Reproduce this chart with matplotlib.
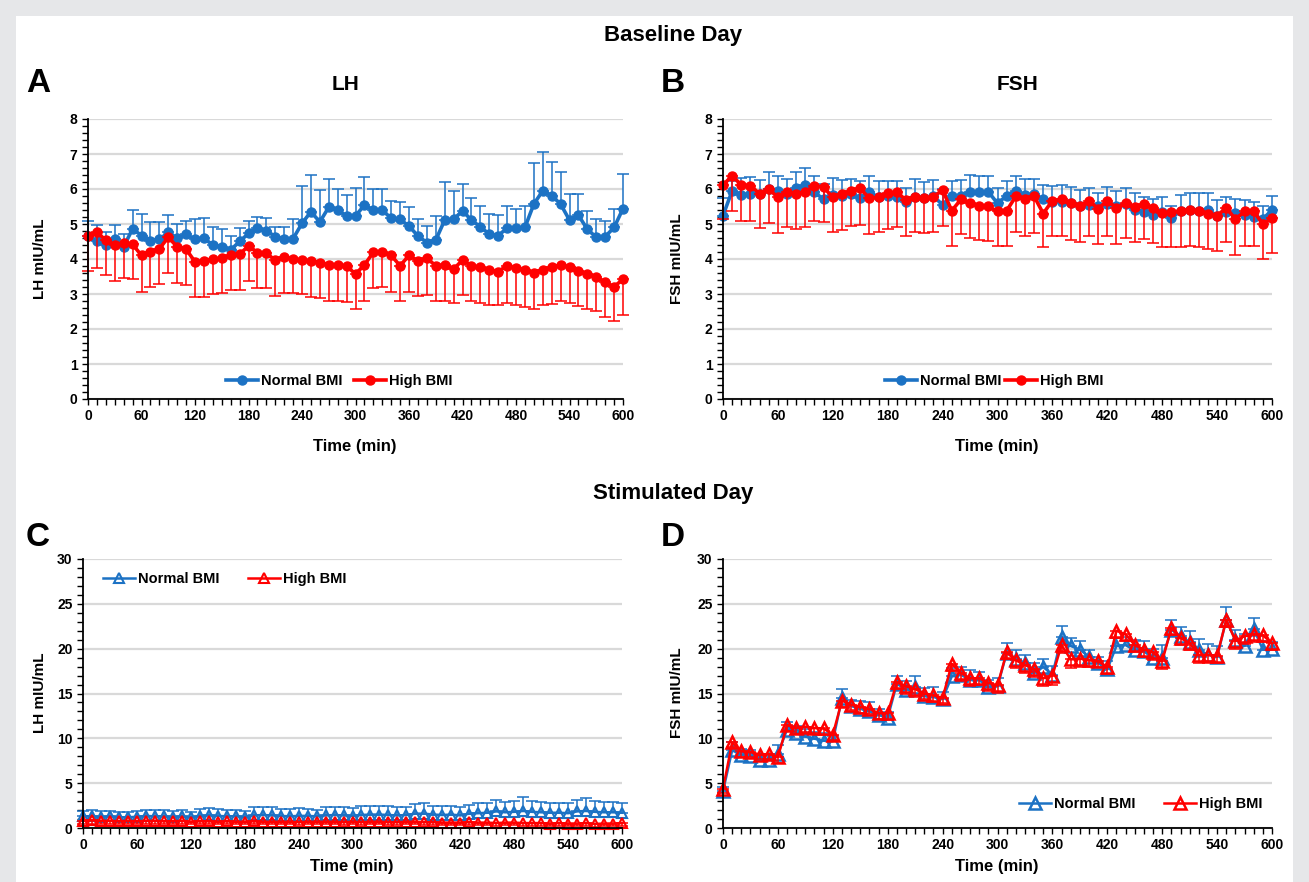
import numpy as np
import matplotlib
matplotlib.use("Agg")
import matplotlib.pyplot as plt
from matplotlib.patches import Rectangle
from matplotlib.ticker import MultipleLocator

plt.rcParams['font.family'] = ['Liberation Sans Narrow', 'Liberation Sans', 'DejaVu Sans']
plt.rcParams['font.weight'] = 'bold'

W, H = 1309, 882
BLUE = '#1c72c4'
RED = '#ff0000'

time_min = np.arange(0, 610, 10)

# --- Baseline day, LH (panel A) ---
lh_base_normal = [4.67, 4.50, 4.40, 4.56, 4.35, 4.86, 4.67, 4.51, 4.56, 4.76, 4.59, 4.70, 4.57, 4.59, 4.40,
                  4.33, 4.26, 4.50, 4.73, 4.88, 4.81, 4.64, 4.56, 4.58, 5.02, 5.35, 5.06, 5.48, 5.40,
                  5.23, 5.23, 5.54, 5.40, 5.40, 5.16, 5.13, 4.94, 4.66, 4.47, 4.54, 5.11, 5.13, 5.38, 5.11,
                  4.92, 4.71, 4.67, 4.88, 4.88, 4.90, 5.57, 5.95, 5.81, 5.57, 5.11, 5.25, 4.85, 4.62, 4.64,
                  4.90, 5.44]
lh_base_normal_top = [5.09, 4.97, 4.76, 4.97, 4.70, 5.40, 5.30, 5.07, 5.07, 5.26, 5.00, 5.09, 5.13, 5.16, 4.90,
                      4.85, 4.66, 4.88, 5.09, 5.21, 5.16, 4.92, 4.92, 5.13, 6.10, 6.40, 5.97, 6.28, 6.00,
                      5.82, 6.04, 6.34, 6.00, 6.00, 5.67, 5.64, 5.48, 5.14, 4.94, 5.23, 6.21, 5.95, 6.14, 5.75,
                      5.52, 5.29, 5.26, 5.52, 5.43, 5.50, 6.75, 7.07, 6.78, 6.48, 5.85, 5.85, 5.38, 5.14, 5.09,
                      5.42, 6.43]
lh_base_high = [4.66, 4.76, 4.54, 4.40, 4.45, 4.42, 4.10, 4.21, 4.29, 4.62, 4.35, 4.28, 3.92, 3.95, 3.99,
                4.02, 4.11, 4.13, 4.38, 4.18, 4.16, 3.97, 4.07, 3.99, 3.97, 3.94, 3.90, 3.83, 3.83,
                3.80, 3.57, 3.83, 4.19, 4.21, 4.10, 3.81, 4.10, 3.95, 4.02, 3.81, 3.83, 3.71, 3.97, 3.81,
                3.76, 3.69, 3.64, 3.81, 3.73, 3.69, 3.61, 3.70, 3.76, 3.83, 3.76, 3.67, 3.57, 3.50, 3.33,
                3.21, 3.42]
lh_base_high_low = [3.66, 3.73, 3.54, 3.37, 3.45, 3.42, 3.07, 3.21, 3.29, 3.59, 3.32, 3.26, 2.92, 2.92, 2.99,
                    3.02, 3.11, 3.11, 3.37, 3.16, 3.16, 2.95, 3.04, 3.02, 2.99, 2.92, 2.88, 2.81, 2.80,
                    2.78, 2.56, 2.80, 3.16, 3.21, 3.07, 2.81, 3.07, 2.94, 2.97, 2.80, 2.80, 2.73, 2.97, 2.80,
                    2.75, 2.69, 2.69, 2.75, 2.69, 2.64, 2.57, 2.69, 2.71, 2.81, 2.73, 2.66, 2.56, 2.50, 2.33,
                    2.23, 2.40]

# --- Baseline day, FSH (panel B) ---
fsh_base_normal = [5.24, 5.95, 5.84, 5.86, 5.86, 6.00, 5.93, 5.86, 6.02, 6.11, 5.90, 5.71, 5.83, 5.79, 5.86,
                   5.73, 5.92, 5.76, 5.79, 5.78, 5.62, 5.78, 5.73, 5.79, 5.55, 5.79, 5.81, 5.90, 5.92,
                   5.92, 5.59, 5.81, 5.95, 5.83, 5.86, 5.70, 5.64, 5.64, 5.59, 5.52, 5.55, 5.52, 5.57, 5.52,
                   5.57, 5.41, 5.35, 5.26, 5.33, 5.16, 5.38, 5.41, 5.38, 5.40, 5.24, 5.35, 5.31, 5.26, 5.19,
                   5.14, 5.40]
fsh_base_normal_top = [5.75, 6.24, 6.31, 6.33, 6.27, 6.48, 6.38, 6.30, 6.50, 6.60, 6.38, 6.14, 6.31, 6.27, 6.29,
                       6.22, 6.38, 6.22, 6.22, 6.24, 6.03, 6.29, 6.19, 6.26, 6.00, 6.24, 6.26, 6.41, 6.36,
                       6.38, 6.03, 6.24, 6.38, 6.30, 6.30, 6.12, 6.08, 6.11, 6.05, 5.97, 6.03, 5.88, 6.05, 5.95,
                       6.03, 5.88, 5.78, 5.71, 5.78, 5.52, 5.83, 5.88, 5.88, 5.88, 5.69, 5.76, 5.71, 5.69, 5.63,
                       5.52, 5.81]
fsh_base_high = [6.11, 6.38, 6.11, 6.10, 5.86, 6.00, 5.76, 5.92, 5.86, 5.92, 6.10, 6.05, 5.76, 5.86, 5.95,
                 6.02, 5.73, 5.76, 5.88, 5.90, 5.69, 5.78, 5.73, 5.78, 5.97, 5.38, 5.70, 5.59, 5.52,
                 5.50, 5.36, 5.38, 5.79, 5.70, 5.79, 5.30, 5.67, 5.70, 5.59, 5.50, 5.67, 5.43, 5.67, 5.46,
                 5.59, 5.48, 5.57, 5.46, 5.31, 5.33, 5.38, 5.41, 5.36, 5.30, 5.24, 5.46, 5.14, 5.36, 5.36,
                 5.00, 5.16]
fsh_base_high_low = [5.14, 5.38, 5.10, 5.10, 4.89, 5.02, 4.73, 4.90, 4.86, 4.92, 5.10, 5.05, 4.76, 4.84, 4.95,
                     4.98, 4.71, 4.76, 4.86, 4.90, 4.67, 4.76, 4.73, 4.76, 4.95, 4.38, 4.70, 4.60, 4.55,
                     4.50, 4.38, 4.38, 4.78, 4.67, 4.74, 4.33, 4.65, 4.65, 4.55, 4.48, 4.65, 4.43, 4.65, 4.43,
                     4.60, 4.48, 4.57, 4.46, 4.33, 4.33, 4.35, 4.36, 4.35, 4.29, 4.24, 4.48, 4.12, 4.38, 4.36,
                     4.00, 4.17]

# --- Stimulated day, LH (panel C) ---
lh_stim_normal = [1.30, 1.30, 1.25, 1.30, 1.20, 1.20, 1.25, 1.35, 1.30, 1.30, 1.25, 1.30, 1.20, 1.35, 1.40,
                  1.35, 1.30, 1.30, 1.25, 1.40, 1.45, 1.40, 1.35, 1.30, 1.35, 1.35, 1.30, 1.40, 1.45, 1.40,
                  1.35, 1.45, 1.50, 1.50, 1.45, 1.40, 1.45, 1.60, 1.60, 1.50, 1.45, 1.50, 1.40, 1.60, 1.65,
                  1.70, 1.85, 1.75, 1.80, 1.90, 1.80, 1.75, 1.70, 1.70, 1.65, 1.85, 1.90, 1.80, 1.75, 1.75,
                  1.70]
lh_stim_normal_err = [0.6, 0.7, 0.6, 0.6, 0.6, 0.6, 0.6, 0.7, 0.7, 0.7, 0.7, 0.7, 0.6, 0.8, 0.8,
                      0.8, 0.7, 0.7, 0.6, 0.9, 0.9, 0.9, 0.8, 0.8, 0.9, 0.8, 0.7, 0.9, 0.9, 0.9,
                      0.9, 1.0, 1.0, 1.0, 1.0, 0.9, 0.9, 1.1, 1.2, 1.0, 1.0, 1.0, 0.9, 1.0, 1.1,
                      1.1, 1.3, 1.2, 1.2, 1.6, 1.2, 1.2, 1.1, 1.1, 1.1, 1.3, 1.4, 1.2, 1.2, 1.2,
                      1.1]
lh_stim_high = [0.80, 0.85, 0.80, 0.80, 0.75, 0.80, 0.75, 0.80, 0.80, 0.75, 0.75, 0.80, 0.70, 0.75, 0.75,
                0.70, 0.75, 0.70, 0.70, 0.75, 0.70, 0.70, 0.70, 0.70, 0.65, 0.70, 0.70, 0.70, 0.70, 0.65,
                0.70, 0.65, 0.70, 0.70, 0.65, 0.65, 0.70, 0.70, 0.65, 0.65, 0.60, 0.60, 0.60, 0.65, 0.60,
                0.60, 0.55, 0.60, 0.60, 0.55, 0.55, 0.55, 0.50, 0.55, 0.50, 0.50, 0.55, 0.45, 0.50, 0.50,
                0.55]
lh_stim_high_err = [0.35, 0.35, 0.3, 0.35, 0.3, 0.35, 0.3, 0.35, 0.35, 0.3, 0.3, 0.35, 0.3, 0.3, 0.3,
                    0.3, 0.3, 0.3, 0.3, 0.3, 0.3, 0.3, 0.3, 0.3, 0.3, 0.3, 0.3, 0.3, 0.3, 0.3,
                    0.3, 0.3, 0.3, 0.3, 0.3, 0.3, 0.3, 0.3, 0.3, 0.3, 0.3, 0.3, 0.3, 0.3, 0.3,
                    0.3, 0.3, 0.3, 0.3, 0.3, 0.3, 0.3, 0.3, 0.3, 0.3, 0.3, 0.3, 0.3, 0.3, 0.3,
                    0.3]

# --- Stimulated day, FSH (panel D) ---
fsh_stim_normal = [4.10, 8.66, 8.18, 8.07, 7.62, 7.55, 8.30, 10.97, 10.60, 10.20, 9.96, 9.74, 9.67, 14.50, 13.60,
                   13.30, 13.00, 12.60, 12.30, 16.10, 15.40, 15.70, 14.70, 14.60, 14.40, 16.90, 17.10, 16.50,
                   16.50, 15.70, 15.80, 19.50, 18.90, 18.40, 17.30, 17.95, 17.10, 21.30, 20.30, 19.90, 19.10,
                   18.40, 17.70, 20.30, 20.40, 19.80, 19.70, 18.96, 18.96, 22.10, 21.40, 20.70, 19.90, 19.30,
                   19.10, 23.20, 21.00, 20.30, 22.20, 19.90, 19.96]
fsh_stim_normal_err = [0.5, 0.9, 0.6, 0.6, 0.6, 0.6, 1.0, 0.9, 0.8, 0.8, 0.8, 0.8, 0.6, 1.0, 0.7,
                       0.9, 1.1, 0.7, 0.6, 0.9, 1.0, 1.2, 0.9, 1.1, 0.8, 0.9, 0.9, 1.1, 0.9, 0.8,
                       0.9, 1.1, 1.0, 0.9, 1.1, 0.85, 1.0, 1.2, 0.9, 0.9, 0.7, 0.7, 0.9, 0.9, 0.9,
                       1.2, 1.2, 1.0, 1.4, 1.1, 1.0, 1.3, 1.2, 1.2, 1.2, 1.4, 1.1, 1.3, 1.2, 1.0,
                       0.8]
fsh_stim_high = [4.35, 9.55, 8.55, 8.48, 8.18, 8.25, 7.92, 11.45, 11.20, 11.30, 11.15, 11.10, 10.40, 14.20, 13.75,
                 13.50, 13.30, 12.80, 12.80, 16.25, 15.80, 15.50, 15.00, 14.80, 14.50, 18.30, 17.30, 16.70,
                 16.70, 16.20, 15.90, 19.60, 18.70, 18.20, 17.70, 16.70, 17.00, 20.40, 18.80, 18.90, 18.70,
                 18.60, 17.95, 22.00, 21.60, 20.40, 19.90, 19.60, 18.60, 22.30, 21.20, 20.60, 19.30, 19.30,
                 19.20, 23.20, 20.90, 21.40, 21.60, 21.50, 20.60]
fsh_stim_high_err = [0.4, 0.5, 0.6, 0.6, 0.5, 0.5, 0.7, 0.6, 0.7, 0.6, 0.6, 0.7, 0.6, 0.7, 0.6,
                     0.7, 0.6, 0.6, 0.7, 0.8, 0.8, 0.9, 0.6, 0.8, 0.6, 0.8, 0.9, 0.9, 0.8, 0.9,
                     0.8, 0.8, 0.9, 0.9, 0.9, 0.9, 1.0, 0.9, 1.0, 0.9, 0.8, 0.7, 0.8, 0.8, 0.7,
                     0.8, 0.8, 0.9, 0.9, 0.8, 0.8, 0.8, 0.9, 0.9, 0.8, 0.8, 0.9, 0.9, 0.9, 0.8,
                     0.7]


def box(l, r, t, b):
    return [l / W, (H - b) / H, (r - l) / W, (b - t) / H]


def style_axis(ax, ymax, ystep, yminor):
    ax.set_xlim(0, 600)
    ax.set_ylim(0, ymax)
    ax.xaxis.set_major_locator(MultipleLocator(60))
    ax.xaxis.set_minor_locator(MultipleLocator(10))
    ax.yaxis.set_major_locator(MultipleLocator(ystep))
    ax.yaxis.set_minor_locator(MultipleLocator(yminor))
    ax.tick_params(which='both', direction='out', color='black', width=1.0, labelsize=10)
    ax.tick_params(which='major', length=4)
    ax.tick_params(which='minor', length=4)
    for lab in ax.get_xticklabels() + ax.get_yticklabels():
        lab.set_fontweight('bold')
    for s in ['top', 'right']:
        ax.spines[s].set_visible(False)
    for s in ['left', 'bottom']:
        ax.spines[s].set_linewidth(1.3)
        ax.spines[s].set_color('black')
    ax.yaxis.grid(True, which='major', color='#d9d9d9', linewidth=1.6)
    ax.set_axisbelow(True)


def circles(ax, mean, lo, hi, color, label):
    mean = np.array(mean)
    ax.errorbar(time_min, mean, yerr=[mean - np.array(lo), np.array(hi) - mean], fmt='none',
                ecolor=color, elinewidth=1.1, capsize=4, capthick=1.1, clip_on=False)
    ax.plot(time_min, mean, '-o', color=color, lw=2.6, ms=6.5, label=label, clip_on=False)


def triangles(ax, mean, lo, hi, color, label, ms=7.5, mew=1.5):
    mean = np.array(mean)
    ax.errorbar(time_min, mean, yerr=[mean - np.array(lo), np.array(hi) - mean], fmt='none',
                ecolor=color, elinewidth=1.1, capsize=4, capthick=1.1, clip_on=False)
    ax.plot(time_min, mean, '-^', color=color, lw=1.8, ms=ms, mfc='none', mew=mew,
            label=label, clip_on=False)


fig = plt.figure(figsize=(W / 100, H / 100), dpi=100, facecolor='#e6e7e9')
fig.add_artist(Rectangle((16 / W, 0), (1293 - 16) / W, (H - 16) / H, transform=fig.transFigure,
                         facecolor='white', edgecolor='none', zorder=-10))

axA = fig.add_axes(box(88, 623, 119, 399))
axB = fig.add_axes(box(723, 1272, 119, 399))
axC = fig.add_axes(box(83, 622, 559, 828))
axD = fig.add_axes(box(723, 1272, 559, 828))

legend_font = {'family': 'Liberation Sans', 'weight': 'bold', 'size': 10.5}

# panel A
circles(axA, lh_base_normal, lh_base_normal, lh_base_normal_top, BLUE, 'Normal BMI')
circles(axA, lh_base_high, lh_base_high_low, lh_base_high, RED, 'High BMI')
style_axis(axA, 8, 1, 0.2)
axA.legend(loc='center', bbox_to_anchor=(0.47, 0.065), ncol=2, frameon=False, handlelength=2.2,
           handletextpad=0.2, columnspacing=0.8, prop=legend_font)

# panel B
circles(axB, fsh_base_normal, fsh_base_normal, fsh_base_normal_top, BLUE, 'Normal BMI')
circles(axB, fsh_base_high, fsh_base_high_low, fsh_base_high, RED, 'High BMI')
style_axis(axB, 8, 1, 0.2)
axB.legend(loc='center', bbox_to_anchor=(0.494, 0.065), ncol=2, frameon=False, handlelength=2.2,
           handletextpad=0.2, columnspacing=0.3, prop=legend_font)

# panel C
lhn = np.array(lh_stim_normal)
lhh = np.array(lh_stim_high)
triangles(axC, lhn, lhn, lhn + np.array(lh_stim_normal_err), BLUE, 'Normal BMI')
triangles(axC, lhh, lhh - np.array(lh_stim_high_err), lhh, RED, 'High BMI')
style_axis(axC, 30, 5, 1)
axC.legend(loc='center', bbox_to_anchor=(0.263, 0.926), ncol=2, frameon=False, handlelength=2.2,
           handletextpad=0.2, columnspacing=2.0, prop=legend_font)

# panel D
fn = np.array(fsh_stim_normal)
fh = np.array(fsh_stim_high)
triangles(axD, fn, fn, fn + np.array(fsh_stim_normal_err), BLUE, 'Normal BMI', ms=9, mew=1.8)
triangles(axD, fh, fh - np.array(fsh_stim_high_err), fh, RED, 'High BMI', ms=9, mew=1.8)
style_axis(axD, 30, 5, 1)
axD.legend(loc='center', bbox_to_anchor=(0.761, 0.089), ncol=2, frameon=False, handlelength=2.2,
           handletextpad=0.2, columnspacing=2.0, prop=legend_font)


def ftext(x, y, s, size, **kw):
    fig.text(x / W, 1 - y / H, s, fontsize=size, fontweight='bold', ha=kw.pop('ha', 'center'),
             va=kw.pop('va', 'center'), **kw)


ftext(673, 35, 'Baseline Day', 16)
ftext(673, 493, 'Stimulated Day', 16)
ftext(38, 83, 'A', 24)
ftext(673, 83, 'B', 24)
ftext(38, 537, 'C', 24)
ftext(673, 537, 'D', 24)
ftext(345, 85, 'LH', 15)
ftext(1018, 85, 'FSH', 15)
ftext(355, 447, 'Time (min)', 12)
ftext(997, 447, 'Time (min)', 12)
ftext(352, 866, 'Time (min)', 12)
ftext(997, 866, 'Time (min)', 12)
ftext(40, 259, 'LH mIU/mL', 11, rotation=90)
ftext(677, 259, 'FSH mIU/mL', 11, rotation=90)
ftext(40, 693, 'LH mIU/mL', 11, rotation=90)
ftext(677, 693, 'FSH mIU/mL', 11, rotation=90)

fig.savefig('out.png', dpi=100, facecolor=fig.get_facecolor())
